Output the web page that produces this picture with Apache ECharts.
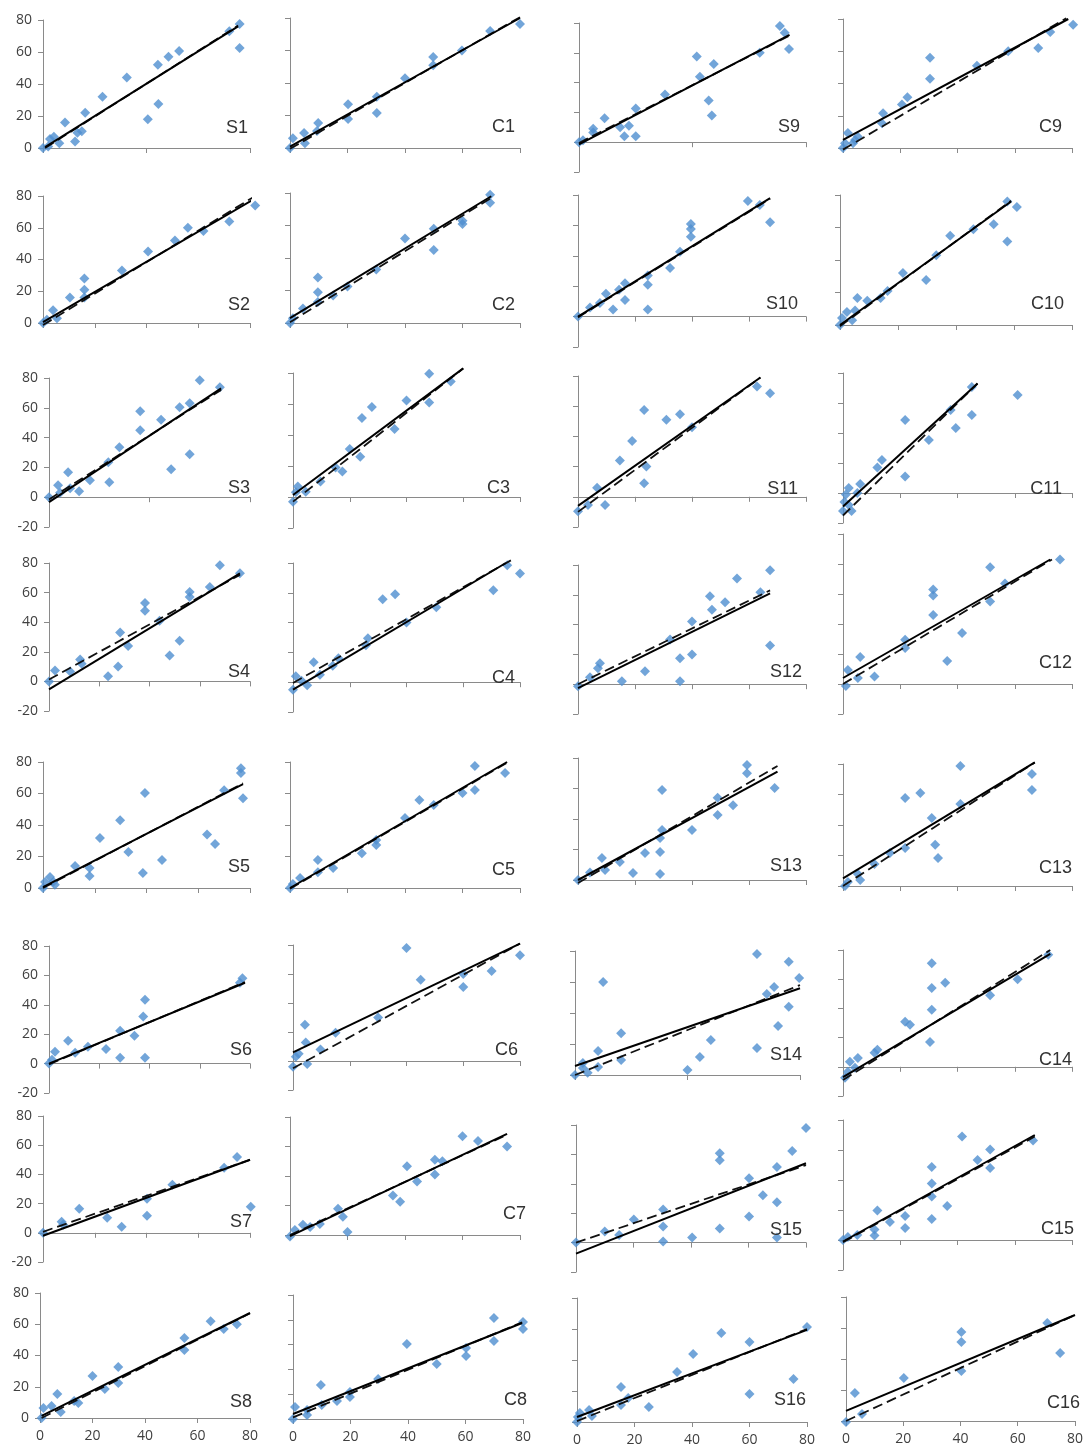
<!DOCTYPE html>
<html>
<head>
<meta charset="utf-8">
<script src="https://cdn.jsdelivr.net/npm/echarts@6/dist/echarts.min.js"></script>
<style>
html, body { margin: 0; padding: 0; background: #ffffff; }
#chart { width: 1086px; height: 1448px; }
</style>
</head>
<body>
<div id="chart"></div>
<script>
// ---- observed vs. predicted values, one small array per panel ----
const S1 = [[0,0],[2,1],[2.7,5.6],[4.2,7],[6.3,3],[8.5,16],[12.4,4],[13.3,9.6],[15,10.5],[16.3,22],[23,32],[32.4,44],[40.5,18],[44.4,52],[44.6,27.5],[48.5,57],[52.6,60.6],[72,73],[76,77.5],[76,62.5]];
const S1_solid = [[0.8,0.6],[75.4,76]];
const S1_dashed = [[0.8,0],[75.4,76.5]];

const C1 = [[0,0],[1,6],[4.9,9.2],[5.2,3],[9.8,15.4],[9.4,10.5],[20.2,27],[20.2,17.8],[30.2,31.5],[30.2,21.5],[40,43],[49.8,56],[49.8,51],[59.8,60],[69.6,72],[80,76.3]];
const C1_solid = [[0,0.8],[80,80]];
const C1_dashed = [[0,-0.5],[80,80.5]];

const S9 = [[0,0],[1.4,1.3],[5,9],[5,6.5],[9,16],[14.5,10],[16,4],[17.6,11],[20,4],[20,22.6],[30.3,32],[41.5,57.5],[42.6,44],[45.7,28],[46.8,18],[47.5,52.5],[63.7,60],[70.8,78],[72.5,73.5],[74,62.5]];
const S9_solid = [[0,-1.5],[74.2,72]];
const S9_dashed = [[0,-0.5],[74.2,71.5]];

const C9 = [[0,0],[0.7,3],[1.7,9.3],[3.5,3],[5.2,7],[4.2,5],[13.6,15.4],[14,21.6],[20.6,27],[22.5,31.5],[30.4,43],[30.4,56],[46.8,51],[57.7,60],[68.2,62],[72.4,72],[80.4,76.5]];
const C9_solid = [[0,5],[78.7,80]];
const C9_dashed = [[0,-1],[78,80.5]];

const S2 = [[0,0],[1.5,2],[3.9,8],[5.4,3],[10.4,16],[16,28],[16,21],[16,16],[30.5,33],[40.6,45],[51,52],[56,60],[62,58],[72,64],[82,74]];
const S2_solid = [[0,0.6],[81,77.5]];
const S2_dashed = [[0,-1.3],[81,79]];

const C2 = [[0,0],[1,3],[4.5,9],[9.7,28],[9.7,19],[9.7,13],[15,17],[20,22.5],[30,33],[40,52],[50,45],[50,58],[60,61],[60,63],[69.6,79],[69.6,74]];
const C2_solid = [[0,3],[70,78]];
const C2_dashed = [[0,0.5],[70,77]];

const S10 = [[0,0],[4.2,6],[7.7,9],[9.8,15],[12.3,4.6],[14.4,17.7],[16.5,22],[16.5,11],[24.5,21],[24.5,27],[24.5,4.6],[32.3,32],[35.8,42.6],[39.6,57.7],[39.6,52.5],[39.6,61],[59.6,76],[63.8,73.4],[67.4,62]];
const S10_solid = [[0,0],[67.4,78]];
const S10_dashed = [[0,-0.5],[67.4,77.5]];

const C10 = [[0,0],[0.7,4.3],[2.4,8],[4.2,3],[5.2,9],[9.4,15],[6,16.6],[14,16.6],[16.4,21],[21.7,32],[29.7,27.7],[33.2,43],[38,55],[46,59],[53,62],[57.7,76],[57.7,51.4],[61,72.6]];
const C10_solid = [[0,0],[59,76]];
const C10_dashed = [[0,-0.8],[59,76.5]];

const S3 = [[0,0],[3.6,8],[4.4,3],[7.6,16.7],[8.4,6],[12,4],[16.3,11.4],[23.6,23.5],[24,10],[28,33.5],[36.3,45],[36.3,57.7],[44.6,52],[48.6,18.8],[52,60.4],[56,28.9],[56,63],[60,78.5],[68,73.8]];
const S3_solid = [[0,-3.3],[68.5,73]];
const S3_dashed = [[0,-1.5],[68.5,72]];

const C3 = [[0,-3],[1,3],[1.7,6.7],[4.5,3.4],[9.7,10],[15,19],[17.4,16.5],[20,31],[23.7,26],[24.3,51],[27.8,58],[35.8,43.8],[40,62.3],[48,79.5],[48,61],[55.6,74.5]];
const C3_solid = [[0,1.3],[60,83]];
const C3_dashed = [[0,-3],[60,83]];

const S11 = [[0,-9.6],[3.5,-5.5],[6.7,6],[9.5,-5.5],[14.7,24],[19,37],[23.2,9],[23.2,57.5],[24,20],[31,51],[35.8,54.6],[40,46],[62.8,73],[67.4,68.5]];
const S11_solid = [[0,-6],[64,79]];
const S11_dashed = [[0,-10],[64,79]];

const C11 = [[0,-12],[0.5,-6],[1,-1],[2,-8],[2,3.3],[3,-12],[5,0],[6,6],[12,17],[13.6,22],[21.7,11],[21.7,48.7],[30,35.3],[37.6,55.3],[39.4,43.3],[45,70.7],[45,52],[61,65.3]];
const C11_solid = [[0,-9],[47,73]];
const C11_dashed = [[0,-15],[47,73]];

const S4 = [[0,0],[2.4,7.4],[8.4,6.7],[12.4,14.8],[13,12],[23.5,3.4],[27.5,10],[28.3,33],[31.5,24],[38.2,47.7],[38.2,53],[44,41],[48,17.5],[52,27.5],[56,60.4],[56,57],[64,63.8],[68,78.5],[76,73]];
const S4_solid = [[0,-5.4],[76,73]];
const S4_dashed = [[0,1.3],[76,72]];

const C4 = [[0,-5],[1,4],[3,1],[5,-2],[7.3,13.4],[9.5,5],[14,11],[16,16],[25.7,24.8],[26.4,29.5],[31.6,55.7],[36,59],[40,40],[50.5,50.3],[70.6,61.7],[75.5,78.5],[80,73]];
const C4_solid = [[0,-5],[75,80]];
const C4_dashed = [[0,-0.5],[77,82]];

const S12 = [[0,-1.3],[4.2,4.7],[7,10.7],[7.7,14],[15.4,2],[23.5,8.7],[32.3,30],[35.8,17.5],[35.8,2],[40,20],[40,42],[46.3,59],[47,50],[51.6,55],[55.8,71],[64,61.7],[67.4,76.5],[67.4,26]];
const S12_solid = [[0,-2.7],[67.4,61]];
const S12_dashed = [[0,0],[67.4,63]];

const C12 = [[1,-1.3],[1.7,9.4],[5.2,4],[6,18],[11,5],[21.7,24],[21.7,29.5],[31.5,46],[31.5,63],[31.5,59],[36.4,15.4],[41.6,34],[51.4,55],[51.4,77.8],[56.6,67],[75.8,83]];
const C12_solid = [[0,4],[72.4,83]];
const C12_dashed = [[0,0],[73,83]];

const S5 = [[0,0],[0.8,3.8],[2.7,7],[4,4],[4.6,2],[12.4,14],[18,7.6],[18,12.7],[22,31.7],[29.8,43],[33,22.9],[38.6,9.5],[39.4,60.3],[46,17.8],[63.4,34],[66.5,28],[70,62],[76.5,76],[76.5,73],[77.3,57]];
const S5_solid = [[0,0.6],[77.3,66]];
const S5_dashed = [[0,0],[77.3,66.5]];

const C5 = [[0,0],[1,2.5],[3.5,6.3],[9.7,17.8],[9.7,10],[15,12.7],[25,22],[30,30.5],[30,27.3],[40,44.4],[45,55.8],[50,52.7],[60,60.3],[64.3,77.5],[64.3,62.2],[74.8,73]];
const C5_solid = [[0,0],[75.5,80]];
const C5_dashed = [[0,-0.5],[75.5,79.5]];

const S13 = [[0,0],[4.2,5],[8.4,14.4],[9.5,6.6],[14.7,11.8],[19.3,4.6],[23.5,17.7],[28.8,18.4],[28.8,27.5],[28.8,4],[29.5,59],[29.5,32.8],[40,32.8],[49,42.6],[49,54],[54.4,49],[59.3,75.4],[59.3,70],[69,60.3]];
const S13_solid = [[0,0],[70,71]];
const S13_dashed = [[0,-2],[70,74.8]];

const C13 = [[0.7,0],[1.7,2.6],[5.2,7.9],[6,4],[11,14.4],[16.4,21.6],[21.7,25],[21.7,57.7],[27,61],[31,44.6],[32.2,27],[33.2,18.4],[41,78.7],[41,53.8],[66,73.4],[66,63]];
const C13_solid = [[0,5],[67,81]];
const C13_dashed = [[0,0],[67,81]];

const S6 = [[0,0],[1.2,2.7],[2.4,8],[7.6,15.6],[10.4,7.4],[15.5,11.5],[22.7,10],[28.3,22.4],[28.3,4],[34,19],[37.5,32],[38.2,43.4],[38.2,4],[76,55],[77,58]];
const S6_solid = [[0,0],[78,55]];
const S6_dashed = [[0,-0.5],[78,55.5]];

const C6 = [[0,-4],[1,3],[2,5],[4.2,25],[4.5,12.7],[5,-2],[9.7,8],[15,19.5],[30,30],[40,78],[45,56],[60,60],[60,51],[70,62],[80,73]];
const C6_solid = [[0,6],[80,81]];
const C6_dashed = [[0,-5],[80,81]];

const S14 = [[0,0],[2.8,7.7],[2.8,4.5],[4.5,1.4],[8.2,15.5],[8.2,5.2],[10,60],[16.4,27],[16.4,9.7],[40,3.2],[44.4,11.6],[48.3,22.6],[64.7,78],[64.7,17.4],[68.2,52.3],[70.8,56.8],[72.2,31.6],[76,73],[76,44],[79.7,62.6]];
const S14_solid = [[0,5.8],[80,56]];
const S14_dashed = [[0,0],[80,58]];

const C14 = [[0.7,-7.5],[1.7,-3.4],[2.4,3.4],[4.2,-0.7],[5.2,6],[11,9.6],[12,11.6],[21.7,30.8],[23.4,28.8],[30.4,17],[31,39],[31,54],[31,71],[35.7,57.5],[51.4,49],[61,60],[71.7,76.7]];
const C14_solid = [[0,-7],[72.4,77.4]];
const C14_dashed = [[0,-9],[72.4,80]];

const S7 = [[0,0],[7.2,7.5],[7.8,5.5],[14,16.4],[24.8,10.3],[30.4,4.1],[40.2,23.3],[40.2,11.6],[50,32.9],[70,44.5],[75,52],[80.3,17.8]];
const S7_solid = [[0,-2],[80,50]];
const S7_dashed = [[0,0.7],[80,50]];

const C7 = [[0,-1],[1.7,3.4],[4.5,7],[7,5.5],[10.4,7.5],[16.7,17.8],[18.4,12.3],[20,2],[35.8,26.7],[38.3,22.6],[40.7,46.6],[44.2,36.3],[50.4,41],[50.4,51],[53,50],[60,67],[65.4,63.7],[75.5,60]];
const C7_solid = [[0,-0.7],[75.5,68.5]];
const C7_dashed = [[0,0],[75.5,68]];

const S15 = [[0,0],[10,7.5],[15,5.2],[20.1,15.7],[30.3,22.6],[30.3,11],[30.3,0.7],[40.4,3.4],[50,60.7],[50,56],[50,9.6],[60.2,43.8],[60.2,17.8],[65,32.2],[69.9,27.4],[69.9,51.4],[69.9,3.4],[75.2,62.3],[80,78]];
const S15_solid = [[0,-7.5],[80,54]];
const S15_dashed = [[0,0],[80,52.7]];

const C15 = [[0,0],[1.7,2],[5,3.4],[11,3],[11,7],[12,19.6],[16.4,12],[21.7,16],[21.7,8],[31,14],[31,29],[31,37.7],[31,48.6],[36.4,22.6],[41.6,69],[47,53.4],[51.4,48],[51.4,60.3],[66.4,66.4]];
const C15_solid = [[0,-1],[67,70]];
const C15_dashed = [[0,-1.5],[67,69]];

const S8 = [[0.6,0],[1.3,6.4],[4.4,7.7],[6.6,15.4],[7.9,3.8],[13,10.9],[14.6,9.6],[20,26.9],[24.7,18.6],[29.8,32.6],[29.8,22.4],[55,51.2],[55,43.5],[65,62],[70,57],[75,60]];
const S8_solid = [[0.6,1.3],[80,67.2]];
const S8_dashed = [[0.6,0],[80,67]];

const C8 = [[0,0],[0.7,9.7],[4.9,7.3],[4.9,3.2],[9.7,27.4],[10,11.3],[15.3,14.5],[19.8,21.8],[19.8,17.7],[29.6,32.3],[39.6,60.5],[50,44.4],[60.2,57.3],[60.2,50.8],[69.9,81.5],[69.9,62.9],[80,78.2],[80,72.6]];
const C8_solid = [[0,4],[79.7,77.4]];
const C8_dashed = [[0,1.3],[79.7,78]];

const S16 = [[0,0],[0.3,3.2],[1,5.8],[4.2,7.7],[5.2,3.9],[15.3,22.6],[15.3,11],[17.8,15.5],[25,9.7],[34.8,32.3],[40.4,43.9],[50.2,57.4],[60,51.6],[60,18.1],[75.3,27.7],[80,61.3]];
const S16_solid = [[0,3.2],[80,59.4]];
const S16_dashed = [[0,0.6],[80,60]];

const C16 = [[0,-0.6],[3.1,18],[5.6,4.5],[20.2,27.7],[40.3,57.4],[40.3,51],[40.3,32.3],[70.3,63.2],[74.8,43.9]];
const C16_solid = [[0,6.5],[80,68.4]];
const C16_dashed = [[0,0],[80,68.4]];

// panel order, row by row (4 per row)
const panelNames = ['S1','C1','S9','C9','S2','C2','S10','C10','S3','C3','S11','C11','S4','C4','S12','C12',
                    'S5','C5','S13','C13','S6','C6','S14','C14','S7','C7','S15','C15','S8','C8','S16','C16'];
const xTicks = [0, 20, 40, 60, 80];

const panelData = {
  S1: [S1, S1_solid, S1_dashed], C1: [C1, C1_solid, C1_dashed], S9: [S9, S9_solid, S9_dashed], C9: [C9, C9_solid, C9_dashed],
  S2: [S2, S2_solid, S2_dashed], C2: [C2, C2_solid, C2_dashed], S10: [S10, S10_solid, S10_dashed], C10: [C10, C10_solid, C10_dashed],
  S3: [S3, S3_solid, S3_dashed], C3: [C3, C3_solid, C3_dashed], S11: [S11, S11_solid, S11_dashed], C11: [C11, C11_solid, C11_dashed],
  S4: [S4, S4_solid, S4_dashed], C4: [C4, C4_solid, C4_dashed], S12: [S12, S12_solid, S12_dashed], C12: [C12, C12_solid, C12_dashed],
  S5: [S5, S5_solid, S5_dashed], C5: [C5, C5_solid, C5_dashed], S13: [S13, S13_solid, S13_dashed], C13: [C13, C13_solid, C13_dashed],
  S6: [S6, S6_solid, S6_dashed], C6: [C6, C6_solid, C6_dashed], S14: [S14, S14_solid, S14_dashed], C14: [C14, C14_solid, C14_dashed],
  S7: [S7, S7_solid, S7_dashed], C7: [C7, C7_solid, C7_dashed], S15: [S15, S15_solid, S15_dashed], C15: [C15, C15_solid, C15_dashed],
  S8: [S8, S8_solid, S8_dashed], C8: [C8, C8_solid, C8_dashed], S16: [S16, S16_solid, S16_dashed], C16: [C16, C16_solid, C16_dashed]
};

// plot frames in pixels: [left, right, top, bottom, yMin, yMax, xInterval, labelRight, labelMidY]
const frames = {
  S1:  [43, 250, 20, 148, 0, 80, 40, 248, 128],
  C1:  [290, 520, 18, 148, 0, 80, 20, 515, 127],
  S9:  [579, 806, 23, 172, -20, 80, 40, 800, 127],
  C9:  [843, 1072, 19, 148, 0, 80, 20, 1062, 127],
  S2:  [43, 250, 196, 323, 0, 80, 20, 250, 305],
  C2:  [290, 520, 193, 323, 0, 80, 20, 515, 305],
  S10: [578, 806, 195, 347, -20, 80, 20, 798, 304],
  C10: [840, 1072, 195, 325, 0, 80, 20, 1064, 304],
  S3:  [49, 250, 378, 527, -20, 80, 40, 250, 488],
  C3:  [293, 520, 373, 528, -20, 80, 20, 510, 488],
  S11: [578, 806, 376, 527, -20, 80, 20, 798, 489],
  C11: [843, 1072, 373, 523, -20, 80, 20, 1062, 489],
  S4:  [49, 250, 563, 711, -20, 80, 20, 250, 672],
  C4:  [293, 520, 563, 712, -20, 80, 20, 515, 678],
  S12: [578, 806, 565, 714, -20, 80, 20, 802, 672],
  C12: [843, 1072, 534, 714, -20, 100, 20, 1072, 663],
  S5:  [43, 250, 762, 888, 0, 80, 20, 250, 867],
  C5:  [290, 520, 762, 888, 0, 80, 20, 515, 870],
  S13: [578, 806, 758, 880, 0, 80, 20, 802, 866],
  C13: [843, 1072, 764, 886, 0, 80, 20, 1072, 868],
  S6:  [49, 250, 946, 1093, -20, 80, 20, 252, 1050],
  C6:  [293, 520, 945, 1090, -20, 80, 20, 518, 1050],
  S14: [575, 800, 951, 1075, 0, 80, 40, 802, 1055],
  C14: [843, 1072, 950, 1096, -20, 80, 20, 1072, 1060],
  S7:  [43, 250, 1116, 1262, -20, 80, 20, 252, 1222],
  C7:  [290, 520, 1117, 1235, 0, 80, 20, 526, 1214],
  S15: [576, 806, 1125, 1272, -20, 80, 20, 802, 1230],
  C15: [843, 1072, 1120, 1270, -20, 80, 20, 1074, 1229],
  S8:  [40, 250, 1293, 1418, 0, 80, 20, 252, 1402],
  C8:  [293, 523, 1295, 1419, 0, 100, 20, 527, 1400],
  S16: [577, 807, 1298, 1422, 0, 80, 20, 806, 1400],
  C16: [846, 1076, 1297, 1421, 0, 80, 20, 1080, 1403]
};

const AXIS_COLOR = '#8a8a8a';
const LABEL_COLOR = '#3f3f3f';
const MARK_COLOR = '#4f8ed0';
const FONT = '"Open Sans", "DejaVu Sans", sans-serif';

const grids = [], xAxes = [], yAxes = [], series = [], texts = [];

panelNames.forEach((name, i) => {
  const f = frames[name];
  const col = i % 4;
  const row = Math.floor(i / 4);
  const [pts, solid, dashed] = panelData[name];

  grids.push({ left: f[0], top: f[2], width: f[1] - f[0], height: f[3] - f[2], containLabel: false });

  xAxes.push({
    gridIndex: i, type: 'value', min: xTicks[0], max: xTicks[xTicks.length - 1], interval: f[6],
    axisLine: { show: true, onZero: true, lineStyle: { color: AXIS_COLOR, width: 1 } },
    axisTick: { show: true, length: 5, lineStyle: { color: AXIS_COLOR } },
    splitLine: { show: false },
    axisLabel: { show: row === 7, interval: 0, margin: 11, color: LABEL_COLOR, fontSize: 14, fontFamily: FONT }
  });

  yAxes.push({
    gridIndex: i, type: 'value', min: f[4], max: f[5], interval: 20,
    axisLine: { show: true, onZero: false, lineStyle: { color: AXIS_COLOR, width: 1 } },
    axisTick: { show: true, length: 5, lineStyle: { color: AXIS_COLOR } },
    splitLine: { show: false },
    axisLabel: { show: col === 0, margin: 11, color: LABEL_COLOR, fontSize: 14, fontFamily: FONT }
  });

  series.push({
    type: 'scatter', xAxisIndex: i, yAxisIndex: i, data: pts,
    symbol: 'diamond', symbolSize: 10, clip: false, z: 2,
    itemStyle: { color: MARK_COLOR }, silent: true
  });
  series.push({
    type: 'line', xAxisIndex: i, yAxisIndex: i, data: dashed,
    symbol: 'none', clip: false, z: 3, silent: true,
    lineStyle: { color: '#111111', width: 1.8, type: [10, 5] }
  });
  series.push({
    type: 'line', xAxisIndex: i, yAxisIndex: i, data: solid,
    symbol: 'none', clip: false, z: 4, silent: true,
    lineStyle: { color: '#000000', width: 2 }
  });

  texts.push({
    type: 'text', x: f[7], y: f[8], z: 10,
    style: { text: name, fill: '#333333', font: '18px "Liberation Sans", Arial, sans-serif',
             align: 'right', verticalAlign: 'middle' }
  });
});

const chart = echarts.init(document.getElementById('chart'), null, { renderer: 'canvas' });
chart.setOption({
  backgroundColor: '#ffffff',
  animation: false,
  grid: grids,
  xAxis: xAxes,
  yAxis: yAxes,
  series: series,
  graphic: texts
});
</script>
</body>
</html>
